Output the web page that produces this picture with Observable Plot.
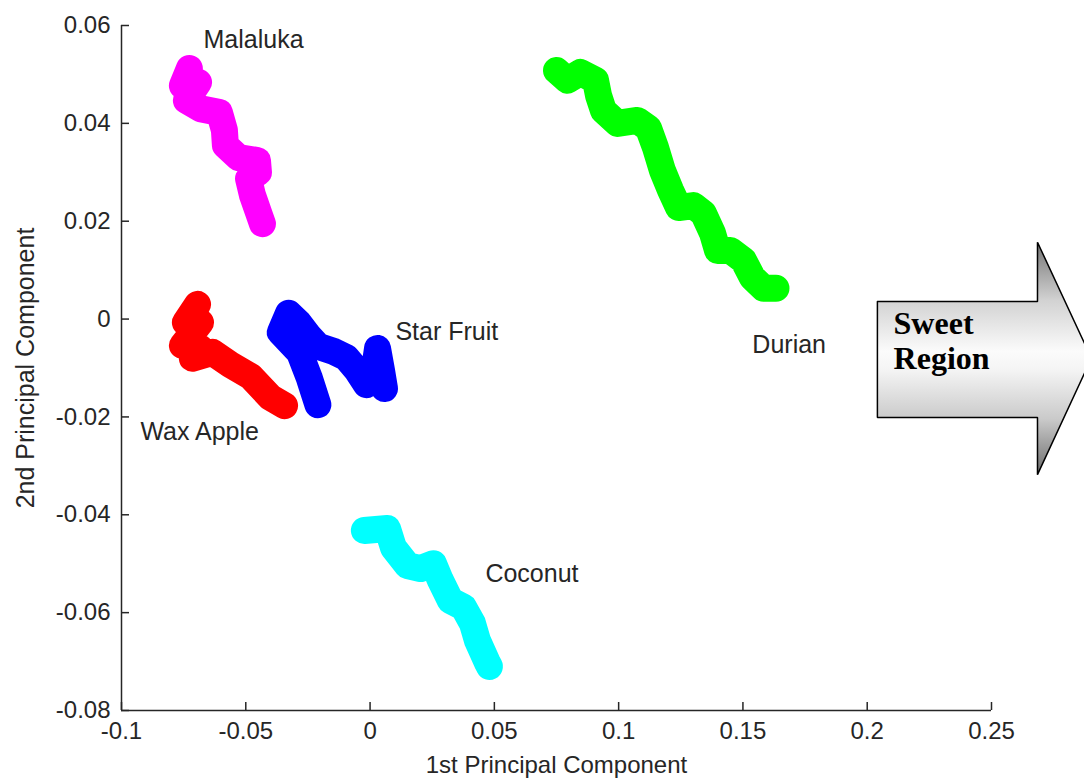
<!DOCTYPE html>
<html>
<head>
<meta charset="utf-8">
<script src="https://cdn.jsdelivr.net/npm/d3@7"></script>
<script src="https://cdn.jsdelivr.net/npm/@observablehq/plot@0.6"></script>
<style>
  html, body { margin: 0; padding: 0; background: #fff; overflow: hidden; }
  #chart svg { display: block; }
</style>
</head>
<body>
<div id="chart"></div>
<script>
// ---- data ----
const seriesNames  = ["Malaluka", "Wax Apple", "Star Fruit", "Durian", "Coconut"];
const seriesColors = ["#ff00ff", "#ff0000", "#0000ff", "#00ff00", "#00ffff"];

const malaluka = [[-0.0727,0.0512],[-0.0755,0.0477],[-0.0690,0.0484],[-0.0739,0.0447],[-0.0682,0.0430],
  [-0.0606,0.0422],[-0.0586,0.0386],[-0.0582,0.0355],[-0.0529,0.0330],[-0.0453,0.0324],[-0.0449,0.0300],
  [-0.0489,0.0287],[-0.0473,0.0253],[-0.0449,0.0218],[-0.0433,0.0195]];
const waxApple = [[-0.0694,0.0030],[-0.0743,-0.0007],[-0.0682,-0.0007],[-0.0755,-0.0054],[-0.0682,-0.0060],
  [-0.0715,-0.0080],[-0.0634,-0.0068],[-0.0562,-0.0093],[-0.0481,-0.0117],[-0.0401,-0.0160],[-0.0344,-0.0177]];
const starFruit = [[-0.0210,-0.0175],[-0.0244,-0.0121],[-0.0284,-0.0068],[-0.0361,-0.0027],[-0.0328,0.0012],
  [-0.0288,-0.0007],[-0.0248,-0.0034],[-0.0208,-0.0056],[-0.0147,-0.0066],[-0.0095,-0.0079],[-0.0055,-0.0103],
  [-0.0015,-0.0134],[0.0018,-0.0101],[0.0030,-0.0060],[0.0046,-0.0105],[0.0058,-0.0142]];
const durian = [[0.0750,0.0508],[0.0794,0.0488],[0.0846,0.0504],[0.0907,0.0488],[0.0919,0.0457],[0.0939,0.0426],
  [0.0995,0.0400],[0.1076,0.0406],[0.1120,0.0390],[0.1148,0.0351],[0.1176,0.0304],[0.1209,0.0263],[0.1241,0.0228],
  [0.1301,0.0232],[0.1341,0.0216],[0.1378,0.0175],[0.1398,0.0140],[0.1450,0.0140],[0.1502,0.0120],[0.1538,0.0085],
  [0.1583,0.0063],[0.1633,0.0063]];
const coconut = [[-0.0023,-0.0432],[0.0070,-0.0428],[0.0094,-0.0467],[0.0151,-0.0504],[0.0203,-0.0510],
  [0.0255,-0.0500],[0.0283,-0.0534],[0.0323,-0.0575],[0.0376,-0.0589],[0.0412,-0.0622],[0.0432,-0.0657],
  [0.0470,-0.0700],[0.0480,-0.0710]];
const seriesPoints = [malaluka, waxApple, starFruit, durian, coconut];

const labelNames = ["Malaluka", "Star Fruit", "Durian", "Wax Apple", "Coconut"];
const labelX = [-0.0670, 0.0102, 0.1538, -0.0924, 0.0464];
const labelY = [0.0571, -0.0027, -0.0052, -0.0230, -0.0522];

const xTicks = [-0.1, -0.05, 0, 0.05, 0.1, 0.15, 0.2, 0.25];
const xTickLabels = ["-0.1", "-0.05", "0", "0.05", "0.1", "0.15", "0.2", "0.25"];
const yTicks = [0.06, 0.04, 0.02, 0, -0.02, -0.04, -0.06, -0.08];
const yTickLabels = ["0.06", "0.04", "0.02", "0", "-0.02", "-0.04", "-0.06", "-0.08"];
const xTitle = "1st Principal Component";
const yTitle = "2nd Principal Component";

// annotation arrow (data units) and its text
const arrowShape = [[0.2041,0.0036],[0.2685,0.0036],[0.2685,0.0157],[0.2902,-0.0080],[0.2685,-0.0318],
  [0.2685,-0.0201],[0.2041,-0.0201],[0.2041,0.0036]];
const arrowText = ["Sweet\nRegion"];
const arrowTextPos = [0.2106, -0.0044];

// ---- build tables ----
const rows = seriesNames.flatMap((name, i) => seriesPoints[i].map(([x, y]) => ({name, x, y})));
const labels = labelNames.map((t, i) => ({t, x: labelX[i], y: labelY[i]}));
const xFmt = new Map(xTicks.map((d, i) => [d, xTickLabels[i]]));
const yFmt = new Map(yTicks.map((d, i) => [d, yTickLabels[i]]));
const xMin = xTicks[0], yMin = yTicks[yTicks.length - 1];

const sans = "'Liberation Sans', Arial, sans-serif";
const FS = 24;
const ink = "#262626";

const chart = Plot.plot({
  width: 1084,
  height: 778,
  marginLeft: 121,
  marginRight: 93,
  marginTop: 25,
  marginBottom: 68,
  style: {fontFamily: sans, fontSize: FS + "px", color: ink, background: "#fff"},
  x: {domain: [xMin, xTicks[xTicks.length - 1]], label: null},
  y: {domain: [yMin, yTicks[0]], label: null},
  color: {domain: seriesNames, range: seriesColors},
  marks: [
    // clusters
    Plot.line(rows, {x: "x", y: "y", z: "name", stroke: "name", strokeWidth: 27,
      strokeLinejoin: "round", strokeLinecap: "round", curve: "linear"}),
    Plot.text(labels, {x: "x", y: "y", text: "t", textAnchor: "start", fontSize: 25, fill: ink}),
    // axes lines
    Plot.ruleX([xMin], {stroke: ink, strokeWidth: 1.5}),
    Plot.ruleY([yMin], {stroke: ink, strokeWidth: 1.5}),
    // inward ticks
    Plot.ruleX(xTicks, {x: d => d, y1: yMin, y2: yMin, insetTop: -8, stroke: ink, strokeWidth: 1.5}),
    Plot.ruleY(yTicks, {y: d => d, x1: xMin, x2: xMin, insetRight: -8, stroke: ink, strokeWidth: 1.5}),
    Plot.axisX(xTicks, {anchor: "bottom", tickSize: 0, tickPadding: 11, tickFormat: d => xFmt.get(d),
      fontSize: FS, label: null}),
    Plot.axisY(yTicks, {anchor: "left", tickSize: 0, tickPadding: 11, tickFormat: d => yFmt.get(d),
      fontSize: FS, label: null}),
    Plot.text([xTitle], {frameAnchor: "bottom", textAnchor: "middle", lineAnchor: "middle", dy: 55,
      text: d => d, fontSize: FS}),
    Plot.text([yTitle], {frameAnchor: "left", textAnchor: "middle", lineAnchor: "middle", dx: -96,
      rotate: -90, text: d => d, fontSize: 25}),
    // annotation arrow
    Plot.line(arrowShape, {x: d => d[0], y: d => d[1], fill: "url(#sweetGrad)", stroke: "#000",
      strokeWidth: 1.5, strokeLinejoin: "miter"}),
    Plot.text(arrowText, {x: () => arrowTextPos[0], y: () => arrowTextPos[1], text: d => d,
      textAnchor: "start", fontFamily: "'Liberation Serif', 'Times New Roman', serif",
      fontWeight: "bold", fontSize: 32, lineHeight: 1.1, fill: "#000"})
  ]
});

// gradient definition for the arrow
const defs = d3.create("svg:defs");
const grad = defs.append("linearGradient").attr("id", "sweetGrad")
  .attr("x1", 0).attr("y1", 0).attr("x2", 0).attr("y2", 1);
[[0, "#747474"], [0.25, "#d2d2d2"], [0.47, "#fbfbfb"], [0.55, "#f4f4f4"], [0.76, "#cacaca"], [1, "#6c6c6c"]]
  .forEach(([o, c]) => grad.append("stop").attr("offset", o).attr("stop-color", c));
chart.insertBefore(defs.node(), chart.firstChild);

document.getElementById("chart").appendChild(chart);
</script>
</body>
</html>
